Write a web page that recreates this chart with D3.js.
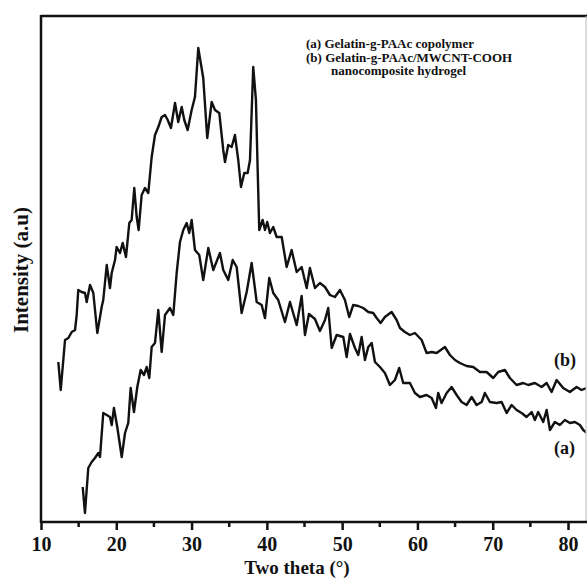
<!DOCTYPE html>
<html>
<head>
<meta charset="utf-8">
<script src="https://cdnjs.cloudflare.com/ajax/libs/d3/7.8.5/d3.min.js"></script>
<style>
  body { margin: 0; background: #fff; }
  text { font-family: "Liberation Serif", "Times New Roman", serif; font-weight: bold; fill: #111; }
</style>
</head>
<body>
<div id="chart"></div>
<script>
// XRD patterns (arbitrary intensity units)
var thetaA = [15.54, 15.84, 16.28, 16.73, 17.17, 17.61, 17.84, 18.27, 18.73, 19.16, 19.39, 19.69, 20.13, 20.72, 21.16, 21.59, 21.91, 22.35, 22.79, 23.24, 23.68, 24.04, 24.38, 24.70, 25.14, 25.58, 26.03, 26.47, 27.13, 27.57, 28.02, 28.46, 28.90, 29.35, 29.69, 30.01, 30.45, 31.02, 31.55, 32.22, 32.88, 33.77, 34.21, 34.87, 35.46, 35.99, 36.65, 37.32, 37.98, 38.65, 39.31, 39.75, 40.32, 40.85, 41.51, 42.40, 43.07, 43.96, 44.62, 45.06, 45.59, 46.39, 47.05, 47.72, 48.15, 48.61, 49.27, 50.15, 50.60, 51.04, 51.70, 52.14, 52.59, 53.03, 53.47, 53.92, 54.36, 55.02, 55.68, 56.35, 57.01, 57.58, 58.11, 59.00, 59.67, 60.33, 61.22, 61.89, 62.46, 62.76, 63.21, 63.88, 64.54, 65.21, 65.87, 66.53, 67.20, 67.86, 68.53, 68.96, 69.63, 70.52, 71.18, 71.85, 72.51, 73.17, 73.84, 74.50, 75.17, 75.60, 76.04, 76.71, 77.16, 77.60, 78.26, 78.92, 79.59, 80.25, 80.92, 81.58, 82.02, 82.51];
var intensityA = [35, 9, 54, 60, 64, 69, 65, 109, 107, 105, 97, 114, 95, 65, 89, 99, 134, 110, 135, 152, 147, 155, 144, 175, 179, 212, 170, 207, 214, 207, 249, 280, 292, 299, 289, 302, 272, 267, 242, 274, 252, 269, 252, 242, 262, 255, 209, 230, 259, 220, 217, 204, 244, 229, 222, 200, 220, 197, 226, 187, 208, 203, 191, 202, 214, 174, 187, 185, 165, 188, 174, 167, 185, 162, 175, 179, 160, 155, 149, 137, 142, 154, 139, 139, 129, 125, 127, 124, 114, 129, 119, 129, 135, 127, 120, 117, 125, 117, 120, 129, 120, 119, 120, 109, 117, 112, 109, 105, 110, 102, 110, 100, 112, 92, 100, 97, 102, 99, 100, 97, 92, 89];

var thetaB = [12.30, 12.62, 13.19, 13.63, 14.08, 14.52, 14.74, 14.95, 15.40, 15.84, 16.07, 16.51, 16.95, 17.48, 18.06, 18.27, 18.73, 19.16, 19.39, 19.83, 20.05, 20.49, 20.85, 21.29, 21.73, 22.04, 22.39, 22.71, 22.97, 23.37, 23.81, 24.25, 24.70, 25.14, 25.58, 26.03, 26.47, 26.83, 27.26, 27.80, 28.23, 28.69, 29.03, 29.48, 30.01, 30.45, 30.89, 31.55, 32.08, 32.67, 33.11, 33.68, 34.21, 34.44, 34.87, 35.33, 35.76, 36.20, 36.56, 37.00, 37.45, 37.76, 38.19, 38.55, 38.78, 38.99, 39.44, 39.75, 40.05, 40.41, 40.85, 41.30, 41.97, 42.63, 43.29, 43.96, 44.62, 45.29, 45.72, 46.39, 47.05, 47.72, 48.38, 49.04, 49.71, 50.37, 50.94, 51.47, 52.14, 52.80, 53.47, 54.13, 54.58, 55.11, 55.68, 56.57, 57.24, 57.68, 58.34, 59.00, 59.67, 60.56, 61.22, 61.89, 62.55, 63.65, 64.32, 64.98, 65.64, 66.53, 67.41, 68.30, 69.19, 70.07, 70.73, 71.62, 72.28, 73.17, 74.05, 74.71, 75.60, 76.49, 77.16, 77.82, 78.49, 79.36, 80.25, 81.14, 81.80, 82.51];
var intensityB = [160, 132, 182, 184, 190, 192, 207, 232, 230, 229, 220, 237, 229, 189, 215, 222, 257, 234, 249, 262, 275, 269, 279, 265, 299, 302, 334, 305, 292, 327, 334, 329, 365, 387, 395, 405, 407, 402, 394, 419, 400, 415, 402, 392, 412, 425, 474, 444, 384, 420, 412, 409, 372, 360, 377, 375, 387, 362, 335, 349, 349, 362, 455, 422, 352, 292, 302, 292, 300, 289, 295, 285, 285, 255, 272, 250, 255, 234, 254, 234, 239, 235, 227, 225, 232, 222, 205, 217, 216, 214, 210, 209, 204, 199, 205, 210, 202, 194, 190, 187, 189, 182, 169, 170, 169, 175, 167, 162, 159, 156, 155, 150, 150, 144, 150, 152, 144, 137, 139, 137, 139, 135, 139, 130, 142, 134, 130, 135, 132, 134];

var xTicks = [10, 20, 30, 40, 50, 60, 70, 80];
var xMinorTicks = [15, 25, 35, 45, 55, 65, 75];
var legendLines = ["(a) Gelatin-g-PAAc copolymer", "(b) Gelatin-g-PAAc/MWCNT-COOH", "nanocomposite hydrogel"];

var width = 587, height = 579;
var mLeft = 41, mRight = 586, mTop = 16, mBottom = 522;

var x = d3.scaleLinear().domain([10, 80]).range([mLeft, 568]);
var y = d3.scaleLinear().domain([0, 506]).range([mBottom, mTop]);

var svg = d3.select('#chart')
    .append('svg')
    .attr('width', width)
    .attr('height', height);

svg.append('defs').append('clipPath').attr('id', 'clip')
    .append('rect').attr('x', mLeft).attr('y', mTop).attr('width', mRight - mLeft).attr('height', mBottom - mTop);

var line = d3.line()
    .x(function (d) { return x(d[0]); })
    .y(function (d) { return y(d[1]); });

var seriesA = thetaA.map(function (t, i) { return [t, intensityA[i]]; });
var seriesB = thetaB.map(function (t, i) { return [t, intensityB[i]]; });

var plot = svg.append('g').attr('clip-path', 'url(#clip)');
[seriesA, seriesB].forEach(function (s) {
    plot.append('path')
        .datum(s)
        .attr('d', line)
        .attr('fill', 'none')
        .attr('stroke', '#111')
        .attr('stroke-width', 2.4)
        .attr('stroke-linejoin', 'round');
});

// frame
svg.append('line').attr('x1', mLeft).attr('x2', width).attr('y1', mTop).attr('y2', mTop)
    .attr('stroke', '#111').attr('stroke-width', 2.5);
svg.append('line').attr('x1', mLeft).attr('x2', mLeft).attr('y1', mTop - 1).attr('y2', mBottom + 1)
    .attr('stroke', '#111').attr('stroke-width', 2.5);
svg.append('line').attr('x1', mRight).attr('x2', mRight).attr('y1', mTop).attr('y2', mBottom)
    .attr('stroke', '#bbb').attr('stroke-width', 1);

// x axis
var xAxis = d3.axisBottom(x).tickValues(xTicks).tickSize(8).tickPadding(7).tickSizeOuter(0);
var gx = svg.append('g').attr('transform', 'translate(0,' + mBottom + ')').call(xAxis);
gx.select('.domain').remove();
gx.append('line').attr('x1', mLeft).attr('x2', width).attr('y1', 0).attr('y2', 0)
    .attr('stroke', '#111').attr('stroke-width', 2.5);
gx.selectAll('.tick line').attr('stroke', '#111').attr('stroke-width', 2.5);
gx.selectAll('.tick text').style('font-size', '20px').attr('fill', '#111')
    .style('font-family', '"Liberation Serif", serif').style('font-weight', 'bold');
gx.selectAll('.minor').data(xMinorTicks).enter().append('line')
    .attr('x1', function (d) { return x(d); }).attr('x2', function (d) { return x(d); })
    .attr('y1', 0).attr('y2', 5)
    .attr('stroke', '#111').attr('stroke-width', 2.5);

svg.append('text')
    .attr('x', 297).attr('y', 574)
    .attr('text-anchor', 'middle')
    .style('font-size', '19px')
    .text('Two theta (\u00B0)');

svg.append('text')
    .attr('transform', 'translate(28,270) rotate(-90)')
    .attr('text-anchor', 'middle')
    .style('font-size', '21px')
    .text('Intensity (a.u)');

// legend
var leg = svg.append('g');
leg.selectAll('text').data(legendLines).enter().append('text')
    .attr('x', function (d, i) { return i === 2 ? 331 : 306; })
    .attr('y', function (d, i) { return 48 + i * 13.5; })
    .style('font-size', '13px')
    .text(function (d) { return d; });

// curve labels
svg.append('text').attr('x', 554).attr('y', 366).style('font-size', '18px').text('(b)');
svg.append('text').attr('x', 554).attr('y', 454).style('font-size', '18px').text('(a)');
</script>
</body>
</html>
